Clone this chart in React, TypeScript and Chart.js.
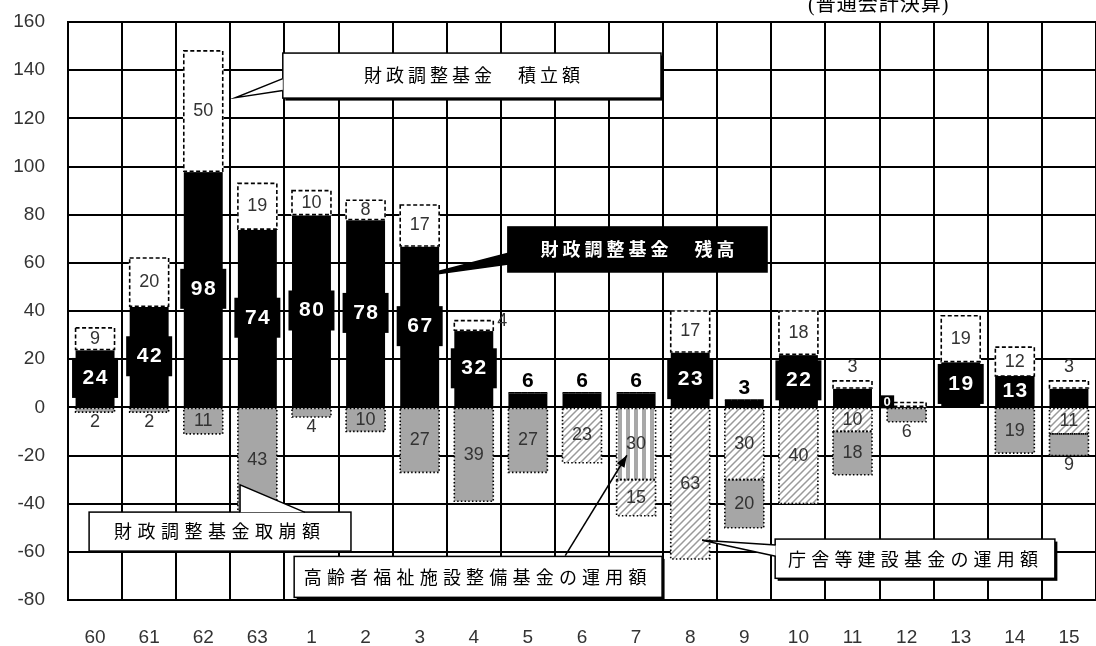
import React, { useEffect, useRef } from 'react';
import { Chart, registerables } from 'chart.js';

Chart.register(...registerables);

// ---- data ----
const categories = ['60', '61', '62', '63', '1', '2', '3', '4', '5', '6', '7', '8', '9', '10', '11', '12', '13', '14', '15'];
// 財政調整基金 残高
const balance = [24, 42, 98, 74, 80, 78, 67, 32, 6, 6, 6, 23, 3, 22, 8, 0, 19, 13, 8];
// 財政調整基金 積立額
const accumulation = [9, 20, 50, 19, 10, 8, 17, 4, 0, 0, 0, 17, 0, 18, 3, 2, 19, 12, 3];
// 高齢者福祉施設整備基金の運用額
const elderlyFund = [null, null, null, null, null, null, null, null, null, null, -30, null, null, null, null, null, null, null, null];
// 庁舎等建設基金の運用額
const officeFund = [null, null, null, null, null, null, null, null, null, -23, -15, -63, -30, -40, -10, null, null, null, -11];
// 財政調整基金取崩額
const withdrawal = [-2, -2, -11, -43, -4, -10, -27, -39, -27, null, null, null, -20, null, -18, -6, null, -19, -9];

const yMin = -80;
const yMax = 160;
const yStep = 20;

const subtitle = '(普通会計決算)';

const FONT = "'Liberation Sans', Arial, sans-serif";
const JFONT = "'Noto Sans CJK JP', sans-serif";

function makeHatch(): CanvasPattern | string {
  const c = document.createElement('canvas');
  c.width = 7; c.height = 7;
  const g = c.getContext('2d');
  if (!g) return '#ccc';
  g.fillStyle = '#fff';
  g.fillRect(0, 0, 7, 7);
  g.strokeStyle = '#9a9a9a';
  g.lineWidth = 1.5;
  g.beginPath();
  g.moveTo(-1, 8); g.lineTo(8, -1);
  g.moveTo(-1, 1); g.lineTo(1, -1);
  g.moveTo(6, 8); g.lineTo(8, 6);
  g.stroke();
  return g.createPattern(c, 'repeat') || '#ccc';
}

function makeStripes(): CanvasPattern | string {
  const c = document.createElement('canvas');
  c.width = 8; c.height = 8;
  const g = c.getContext('2d');
  if (!g) return '#ccc';
  g.fillStyle = '#fff';
  g.fillRect(0, 0, 8, 8);
  g.fillStyle = '#a8a8a8';
  g.fillRect(2, 0, 4, 8);
  return g.createPattern(c, 'repeat') || '#ccc';
}

function spacedText(ctx: CanvasRenderingContext2D, text: string, cx: number, cy: number, spacing: number) {
  (ctx as any).letterSpacing = spacing + 'px';
  const w = ctx.measureText(text).width;
  ctx.textAlign = 'left';
  ctx.textBaseline = 'middle';
  ctx.fillText(text, cx - (w - spacing) / 2, cy);
  (ctx as any).letterSpacing = '0px';
}

const overlayPlugin = {
  id: 'overlay',
  afterDatasetsDraw(chart: any) {
    const ctx: CanvasRenderingContext2D = chart.ctx;
    ctx.save();
    // borders
    chart.data.datasets.forEach((ds: any, di: number) => {
      if (di === 0) return;
      const meta = chart.getDatasetMeta(di);
      meta.data.forEach((el: any, i: number) => {
        const v = ds.data[i];
        if (v === null || v === undefined) return;
        const { x, y, base, width } = el.getProps(['x', 'y', 'base', 'width'], true);
        const l = x - width / 2;
        const t = Math.min(y, base);
        const h = Math.abs(base - y);
        ctx.lineWidth = 1.6;
        if (di === 1) {
          ctx.setLineDash([]);
          ctx.strokeStyle = '#fff';
          ctx.strokeRect(l, t, width, h);
          ctx.setLineDash([4, 2.5]);
        } else {
          ctx.setLineDash([1.5, 2.2]);
        }
        ctx.strokeStyle = '#000';
        ctx.strokeRect(l, t, width, h);
      });
    });
    ctx.setLineDash([]);

    // labels
    chart.data.datasets.forEach((ds: any, di: number) => {
      const meta = chart.getDatasetMeta(di);
      meta.data.forEach((el: any, i: number) => {
        const v = ds.data[i];
        if (v === null || v === undefined) return;
        const { x, y, base, width } = el.getProps(['x', 'y', 'base', 'width'], true);
        const h = Math.abs(base - y);
        const cy = (y + base) / 2;
        const label = String(Math.abs(v));
        if (di === 0) {
          ctx.font = `bold 21px ${FONT}`;
          if (v === 0) {
            ctx.fillStyle = '#000';
            ctx.fillRect(x - width / 2 - 7, base - 12, 14, 13);
            ctx.fillStyle = '#fff';
            ctx.font = `bold 13px ${FONT}`;
            ctx.textAlign = 'center';
            ctx.textBaseline = 'middle';
            ctx.fillText('0', x - width / 2, base - 5);
          } else if (v < 10) {
            if (accumulation[i] > 0) return;
            ctx.fillStyle = '#000';
            spacedText(ctx, label, x, y - 12, 1);
          } else {
            const bh = Math.min(40, h);
            const bw = h >= 40 ? 46 : width;
            ctx.fillStyle = '#000';
            ctx.fillRect(x - bw / 2, cy - bh / 2, bw, bh);
            ctx.fillStyle = '#fff';
            spacedText(ctx, label, x, cy, 1.5);
          }
          return;
        }
        if (di === 1 && v < 3) return;
        ctx.font = `18px ${FONT}`;
        ctx.fillStyle = '#333';
        ctx.textAlign = 'center';
        ctx.textBaseline = 'middle';
        if (di === 1) {
          if (v <= 3) {
            ctx.fillText(label, x, y - 14);
          } else if (v < 5) {
            ctx.textAlign = 'left';
            ctx.fillText(label, x + width / 2 + 4, y);
          } else {
            ctx.fillText(label, x, cy);
          }
        } else {
          if (h < 22) {
            ctx.fillText(label, x, Math.max(y, base) + 10);
          } else {
            ctx.fillText(label, x, cy);
          }
        }
      });
    });
    ctx.restore();
  },
  afterDraw(chart: any) {
    const ctx: CanvasRenderingContext2D = chart.ctx;
    const xs = chart.scales.x;
    const ys = chart.scales.y;
    const X = (i: number) => xs.getPixelForValue(i);
    const Y = (v: number) => ys.getPixelForValue(v);
    ctx.save();

    const box = (x1: number, v1: number, x2: number, v2: number, fill: string, shadow: boolean) => {
      const l = X(x1), r = X(x2), t = Y(v1), b = Y(v2);
      if (shadow) {
        ctx.fillStyle = '#000';
        ctx.fillRect(l + 2.5, t + 2.5, r - l, b - t);
      }
      ctx.fillStyle = fill;
      ctx.fillRect(l, t, r - l, b - t);
      ctx.strokeStyle = '#000';
      ctx.lineWidth = 1.5;
      ctx.strokeRect(l, t, r - l, b - t);
      return { l, r, t, b, cx: (l + r) / 2, cy: (t + b) / 2 };
    };
    const pointer = (p1: number[], tip: number[], p2: number[], fill: string) => {
      ctx.beginPath();
      ctx.moveTo(X(p1[0]), Y(p1[1]));
      ctx.lineTo(X(tip[0]), Y(tip[1]));
      ctx.lineTo(X(p2[0]), Y(p2[1]));
      ctx.closePath();
      ctx.fillStyle = fill;
      ctx.fill();
      ctx.beginPath();
      ctx.moveTo(X(p1[0]), Y(p1[1]));
      ctx.lineTo(X(tip[0]), Y(tip[1]));
      ctx.lineTo(X(p2[0]), Y(p2[1]));
      ctx.strokeStyle = '#000';
      ctx.lineWidth = 1.5;
      ctx.stroke();
    };

    // 積立額 callout
    let b = box(3.47, 147.1, 10.46, 128.4, '#fff', true);
    pointer([3.47, 136.5], [2.6, 128.6], [3.47, 131.6], '#fff');
    ctx.fillStyle = '#000';
    ctx.font = `18px ${JFONT}`;
    spacedText(ctx, '財政調整基金　積立額', b.cx, b.cy, 4);

    // 残高 callout
    b = box(7.63, 74.9, 12.42, 56.2, '#000', false);
    pointer([7.64, 64], [6.0, 54.4], [7.64, 59.5], '#000');
    ctx.fillStyle = '#fff';
    ctx.font = `bold 18px ${JFONT}`;
    spacedText(ctx, '財政調整基金　残高', b.cx, b.cy, 4);

    // 取崩額 callout
    b = box(-0.11, -43.5, 4.73, -59.7, '#fff', false);
    pointer([2.68, -43.6], [2.68, -32.2], [3.88, -43.6], '#fff');
    ctx.fillStyle = '#000';
    ctx.font = `18px ${JFONT}`;
    spacedText(ctx, '財政調整基金取崩額', b.cx - 3, b.cy, 5.5);

    // 高齢者福祉施設整備基金 callout
    b = box(3.68, -61.9, 10.48, -78.9, '#fff', true);
    ctx.fillStyle = '#000';
    ctx.font = `18px ${JFONT}`;
    spacedText(ctx, '高齢者福祉施設整備基金の運用額', b.cx - 3, b.cy, 5.2);
    {
      const x1 = X(8.69), y1 = Y(-61.6), x2 = X(9.83), y2 = Y(-19.9);
      ctx.strokeStyle = '#000';
      ctx.lineWidth = 1.5;
      ctx.beginPath();
      ctx.moveTo(x1, y1);
      ctx.lineTo(x2, y2);
      ctx.stroke();
      const ang = Math.atan2(y2 - y1, x2 - x1);
      const len = 12, wid = 4.5;
      ctx.beginPath();
      ctx.moveTo(x2, y2);
      ctx.lineTo(x2 - len * Math.cos(ang) + wid * Math.sin(ang), y2 - len * Math.sin(ang) - wid * Math.cos(ang));
      ctx.lineTo(x2 - len * Math.cos(ang) - wid * Math.sin(ang), y2 - len * Math.sin(ang) + wid * Math.cos(ang));
      ctx.closePath();
      ctx.fillStyle = '#000';
      ctx.fill();
    }

    // 庁舎等建設基金 callout
    b = box(12.57, -54.7, 17.74, -71, '#fff', true);
    pointer([12.58, -57.2], [11.22, -55.2], [12.58, -61.8], '#fff');
    ctx.fillStyle = '#000';
    ctx.font = `18px ${JFONT}`;
    spacedText(ctx, '庁舎等建設基金の運用額', b.cx - 2, b.cy, 5.2);

    // subtitle
    ctx.fillStyle = '#000';
    ctx.font = `20px 'Liberation Serif', 'Noto Sans CJK JP', serif`;
    (ctx as any).letterSpacing = '1px';
    ctx.textAlign = 'left';
    ctx.textBaseline = 'alphabetic';
    ctx.fillText(subtitle, 808, 11);
    (ctx as any).letterSpacing = '0px';

    ctx.restore();
  },
};

export default function App() {
  const canvasRef = useRef<HTMLCanvasElement | null>(null);

  useEffect(() => {
    document.body.style.margin = '0';
    const canvas = canvasRef.current;
    if (!canvas) return;
    const hatch = makeHatch();
    const stripes = makeStripes();
    const common = { barPercentage: 0.72, categoryPercentage: 1.0, borderWidth: 0 };
    const chart = new Chart(canvas, {
      type: 'bar',
      data: {
        labels: categories,
        datasets: [
          { label: '財政調整基金 残高', data: balance, backgroundColor: '#000', ...common },
          { label: '財政調整基金 積立額', data: accumulation, backgroundColor: '#fff', ...common },
          { label: '高齢者福祉施設整備基金の運用額', data: elderlyFund as any, backgroundColor: stripes as any, ...common },
          { label: '庁舎等建設基金の運用額', data: officeFund as any, backgroundColor: hatch as any, ...common },
          { label: '財政調整基金取崩額', data: withdrawal as any, backgroundColor: '#a6a6a6', ...common },
        ],
      },
      options: {
        responsive: false,
        animation: false,
        devicePixelRatio: 1,
        layout: { padding: { top: 22, right: 0, left: 0, bottom: 0 } },
        plugins: { legend: { display: false }, tooltip: { enabled: false }, title: { display: false } },
        scales: {
          x: {
            stacked: true,
            grid: { offset: true, color: '#000', lineWidth: 2, drawTicks: false },
            border: { display: true, color: '#000', width: 2 },
            ticks: { padding: 26, color: '#333', font: { family: FONT, size: 19 } },
            afterFit: (s: any) => { s.height = 46; s.paddingLeft = 0; s.paddingRight = 0; },
          },
          y: {
            stacked: true,
            min: yMin,
            max: yMax,
            grid: { color: '#000', lineWidth: 2, drawTicks: false },
            border: { display: true, color: '#000', width: 2 },
            ticks: { stepSize: yStep, padding: 23, color: '#333', font: { family: FONT, size: 19 } },
            afterFit: (s: any) => { s.width = 68; s.paddingTop = 0; s.paddingBottom = 0; },
          },
        },
      },
      plugins: [overlayPlugin],
    });
    return () => chart.destroy();
  }, []);

  return (
    <div style={{ position: 'fixed', left: 0, top: 0, width: 1096, height: 646, background: '#fff' }}>
      <canvas ref={canvasRef} width={1096} height={646} />
    </div>
  );
}
